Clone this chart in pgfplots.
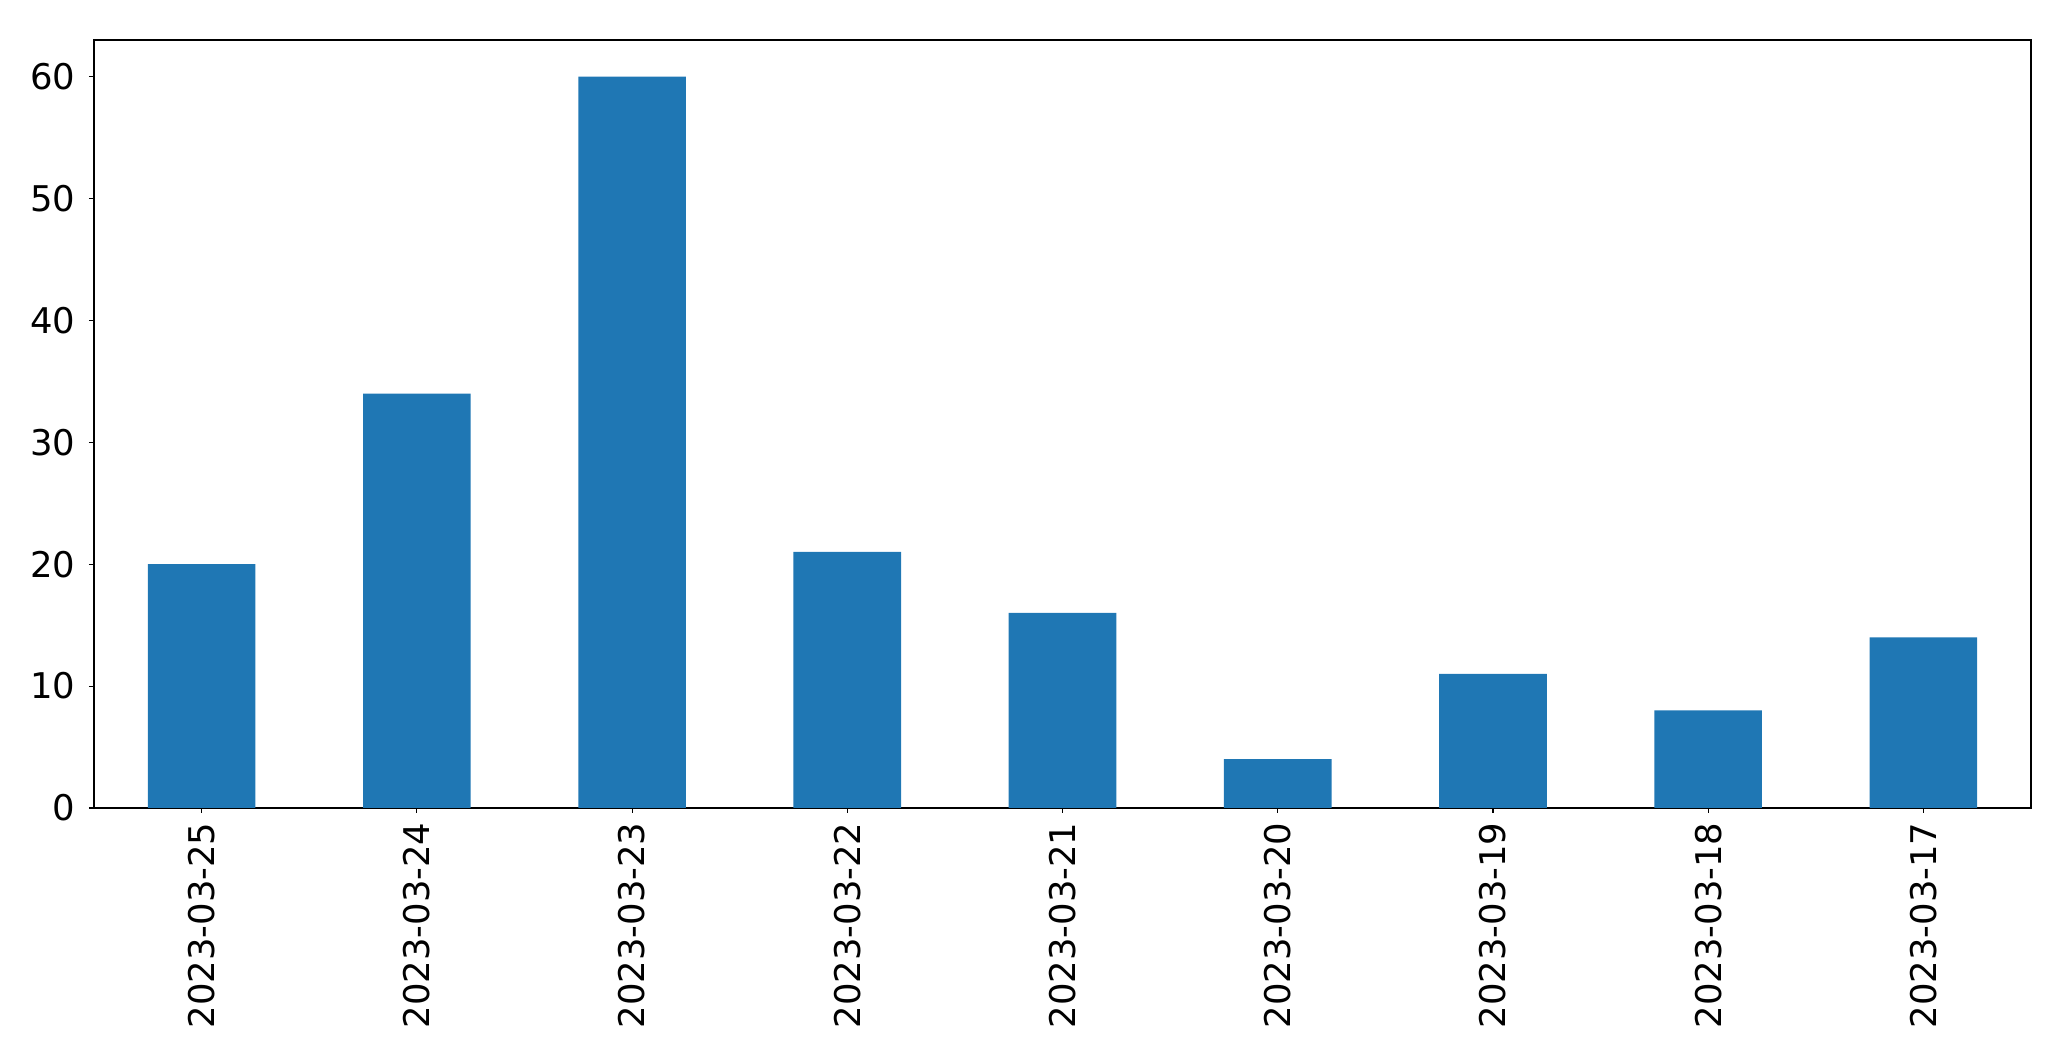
\documentclass[border=0pt]{standalone}
\usepackage{pgfplots}
\pgfplotsset{compat=1.18}
\usepackage{fontspec}
\setmainfont{DejaVu Sans}
\definecolor{mplblue}{HTML}{1F77B4}
\begin{document}
\begin{tikzpicture}
\begin{axis}[
  scale only axis,
  width=968.5pt, height=384pt,
  xmin=-0.5, xmax=8.5, ymin=0, ymax=63,
  xtick={0,1,2,3,4,5,6,7,8},
  xticklabels={2023-03-25,2023-03-24,2023-03-23,2023-03-22,2023-03-21,2023-03-20,2023-03-19,2023-03-18,2023-03-17},
  ytick={0,10,20,30,40,50,60},
  tick align=outside,
  major tick length=2.5pt,
  tick style={black, line width=0.55pt},
  xtick pos=bottom, ytick pos=left,
  axis line style={line width=0.55pt},
  every axis/.append style={line width=0.55pt},
  /pgf/number format/assume math mode=true,
  ticklabel style={font=\fontsize{17.7pt}{21pt}\selectfont, inner sep=0pt},
  yticklabel style={anchor=east, xshift=-6.5pt},
  xticklabel style={rotate=90, anchor=east, xshift=-4.5pt, yshift=0pt},
  clip=false,
]
\addplot[ybar, bar width=0.5, fill=mplblue, draw=none, bar shift=0pt] coordinates {
(0,20) (1,34) (2,60) (3,21) (4,16) (5,4) (6,11) (7,8) (8,14)
};
\end{axis}
\path (current axis.south west) ++(-47pt,-126.5pt) coordinate (bl);
\path (current axis.north east) ++(20pt,20pt) coordinate (tr);
\useasboundingbox (bl) rectangle (tr);
\end{tikzpicture}
\end{document}
